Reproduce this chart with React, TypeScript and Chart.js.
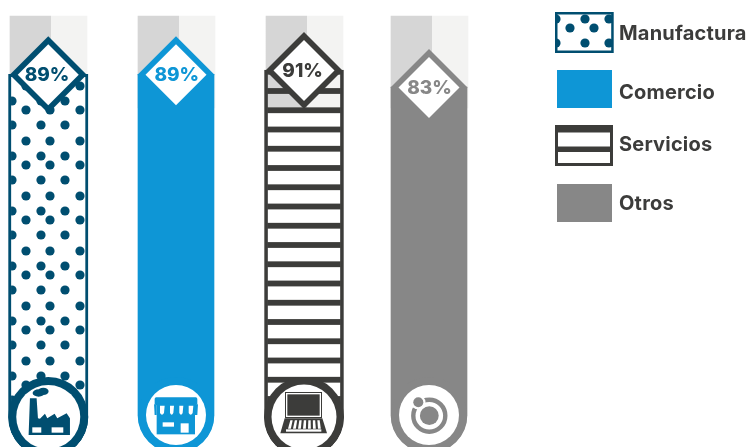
import React, { useEffect, useRef } from "react";
import { Chart, registerables } from "chart.js";

Chart.register(...registerables);

// ---- data ----
const categories = ["Manufactura", "Comercio", "Servicios", "Otros"];
const shares = [89, 89, 91, 83];
const trackRanges: [number, number][] = [
  [73.1, 116.4],
  [73.1, 116.4],
  [73.1, 116.4],
  [73.1, 116.4],
];
const barBases = [-91.1, -89.2, -91.1, -89.2];

// ---- style ----
const AXIS_MIN = -92.53;
const AXIS_MAX = 123.94;
const NAVY = "#004e70";
const BLUE = "#0e96d6";
const DARK = "#3c3c3a";
const GREY = "#878787";
const TEXT = "#3c3c3b";
const colors = [NAVY, BLUE, DARK, GREY];
const barWidths = [79.5, 76, 79, 76];
const borderWidths = [3, 0, 3, 0];
const radii = [40, 38, 40, 38];
const innerRadii = [32, 30, 32.5, 30];
const valueNudge = [0.25, 0.83, 1.67, -0.5];
const trackNudge = [0.5, 1.33, 2.17, 0];
const labelNudge = [-1.2, 0.8, -1.4, 0.5];
const FONT = "Inter, sans-serif";

function makeDots(): CanvasPattern {
  const t = document.createElement("canvas");
  t.width = 100;
  t.height = 55;
  const c = t.getContext("2d")!;
  c.fillStyle = "#fff";
  c.fillRect(0, 0, 100, 55);
  c.fillStyle = NAVY;
  const rows: [number, number[]][] = [
    [0, [26, 50, 80]],
    [15, [12, 41, 65]],
    [31, [26, 50, 80]],
    [46, [12, 41, 65]],
    [55, [26, 50, 80]],
  ];
  rows.forEach(([y, xs]) =>
    xs.forEach((x) => {
      c.beginPath();
      c.arc(x, y, 4.6, 0, Math.PI * 2);
      c.fill();
    })
  );
  return c.createPattern(t, "repeat")!;
}

function makeStripes(): CanvasPattern {
  const t = document.createElement("canvas");
  t.width = 4;
  t.height = 77;
  const c = t.getContext("2d")!;
  c.fillStyle = DARK;
  [14, 33.25, 52.5, 71.75].forEach((y) => c.fillRect(0, y - 2.9, 4, 5.8));
  return c.createPattern(t, "repeat")!;
}

function poly(c: CanvasRenderingContext2D, pts: number[][]) {
  c.beginPath();
  pts.forEach(([x, y], i) => (i ? c.lineTo(x, y) : c.moveTo(x, y)));
  c.closePath();
}

function rect(c: CanvasRenderingContext2D, col: string, x0: number, y0: number, x1: number, y1: number) {
  c.fillStyle = col;
  c.fillRect(x0, y0, x1 - x0, y1 - y0);
}

function factoryIcon(c: CanvasRenderingContext2D) {
  c.fillStyle = NAVY;
  poly(c, [
    [60, 40], [80, 40], [84, 100], [90, 101], [105, 86], [112, 100], [134, 86], [142, 100],
    [170, 85], [180, 100], [180, 150], [56, 150],
  ]);
  c.fill();
  c.beginPath();
  c.ellipse(86, 24, 18, 11, 0, 0, Math.PI * 2);
  c.ellipse(100, 19, 16, 11, 0, 0, Math.PI * 2);
  c.fill();
  rect(c, "#fff", 67, 127, 94, 143);
  rect(c, "#fff", 125, 127, 160, 143);
}

function storeIcon(c: CanvasRenderingContext2D) {
  c.fillStyle = BLUE;
  c.beginPath();
  c.roundRect(44, 37, 128, 23, 5);
  c.fill();
  rect(c, BLUE, 50, 55, 165, 148);
  poly(c, [[42, 58], [50, 58], [50, 90], [44, 90]]);
  c.fill();
  poly(c, [[165, 58], [174, 58], [172, 90], [165, 90]]);
  c.fill();
  [[60, 74], [90, 102], [118, 130], [146, 160]].forEach(([a, b]) => {
    c.fillStyle = "#fff";
    c.beginPath();
    c.moveTo(a, 62);
    c.lineTo(b, 62);
    c.lineTo(b - 2, 84);
    c.quadraticCurveTo((a + b) / 2 - 1, 94, a, 84);
    c.closePath();
    c.fill();
  });
  rect(c, "#fff", 68, 112, 102, 125);
  rect(c, "#fff", 122, 115, 146, 143);
}

function laptopIcon(c: CanvasRenderingContext2D) {
  rect(c, DARK, 57, 21, 168, 99);
  rect(c, "#fff", 60, 24, 165, 96);
  rect(c, DARK, 64, 28, 161, 92);
  c.fillStyle = DARK;
  poly(c, [[56, 100], [169, 100], [183, 145], [43, 145]]);
  c.fill();
  c.fillStyle = "#fff";
  for (let i = 0; i < 7; i++) {
    const x = 70 + i * 13.5;
    poly(c, [[x + 3, 106], [x + 10, 106], [x + 6 + (i - 3) * 1.5 + 3, 131], [x + (i - 3) * 1.5 + 0.5, 131]]);
    c.fill();
  }
  rect(c, "#fff", 60, 133, 166, 140);
}

function otherIcon(c: CanvasRenderingContext2D) {
  c.strokeStyle = GREY;
  c.lineWidth = 4.4;
  c.beginPath();
  c.arc(0.3, 0.7, 16, 0, Math.PI * 2);
  c.stroke();
  c.fillStyle = GREY;
  c.beginPath();
  c.arc(0.3, 0.7, 9.4, 0, Math.PI * 2);
  c.fill();
  c.fillStyle = "#fff";
  c.beginPath();
  c.arc(-10.7, -12.7, 7.2, 0, Math.PI * 2);
  c.fill();
  c.fillStyle = GREY;
  c.beginPath();
  c.arc(-10.7, -12.7, 5, 0, Math.PI * 2);
  c.fill();
}

const RING_Y = [417, 415, 417, 415];
const iconOffset = [
  [-38.3, -32],
  [-36, -30],
  [-38, -32],
];
const iconDraw = [factoryIcon, storeIcon, laptopIcon];

const App = () => {
  const ref = useRef<HTMLCanvasElement>(null);
  useEffect(() => {
    const dots = makeDots();
    const stripes = makeStripes();
    const fills: (string | CanvasPattern)[] = [dots, BLUE, stripes, GREY];

    const overlay = {
      id: "overlay",
      afterDatasetsUpdate(chart: any) {
        const n = categories.length;
        chart.getDatasetMeta(n).data.forEach((el: any, i: number) => {
          el.x += trackNudge[i];
        });
        for (let d = 0; d < n; d++) {
          chart.getDatasetMeta(d).data.forEach((el: any, i: number) => {
            el.x += valueNudge[i];
          });
        }
      },
      afterDatasetsDraw(chart: any) {
        const c: CanvasRenderingContext2D = chart.ctx;
        categories.forEach((label, i) => {
          const el = chart.getDatasetMeta(i).data[i];
          const x = el.x;
          const y = el.y + 0.6;
          // diamond
          const col = colors[i];
          c.fillStyle = col;
          poly(c, [[x, y - 38.5], [x + 38.5, y], [x, y + 38.5], [x - 38.5, y]]);
          c.fill();
          c.fillStyle = "#fff";
          poly(c, [[x, y - 30.5], [x + 30.5, y], [x, y + 30.5], [x - 30.5, y]]);
          c.fill();
          c.fillStyle = col;
          c.font = `800 19px ${FONT}`;
          c.textAlign = "center";
          c.textBaseline = "middle";
          c.fillText(`${shares[i]}%`, x + labelNudge[i], y + 0.7);
          // ring and icon
          const ry = RING_Y[i];
          c.fillStyle = col;
          c.beginPath();
          c.arc(x, ry, radii[i], 0, Math.PI * 2);
          c.fill();
          c.fillStyle = "#fff";
          c.beginPath();
          c.arc(x, ry, innerRadii[i], 0, Math.PI * 2);
          c.fill();
          c.save();
          c.translate(x, ry);
          if (i < 3) {
            c.translate(iconOffset[i][0], iconOffset[i][1]);
            c.scale(1 / 3, 1 / 3);
            iconDraw[i](c);
          } else {
            otherIcon(c);
          }
          c.restore();
        });

        // legend
        rect(c, NAVY, 555, 12, 613.7, 53);
        c.save();
        c.beginPath();
        c.rect(557.5, 14.5, 53.7, 36);
        c.clip();
        c.translate(544, -27);
        c.fillStyle = dots;
        c.fillRect(0, 27, 100, 100);
        c.restore();
        rect(c, BLUE, 557, 70, 612, 108);
        rect(c, DARK, 555, 125, 613, 166);
        rect(c, "#fff", 558, 132.5, 610, 146.5);
        rect(c, "#fff", 558, 152, 610, 163);
        rect(c, GREY, 557, 184, 612, 222);
        const ys = [34, 93, 145, 204];
        c.fillStyle = TEXT;
        c.font = `700 20px ${FONT}`;
        (c as any).letterSpacing = "0.2px";
        c.textAlign = "left";
        c.textBaseline = "middle";
        categories.forEach((label, i) => c.fillText(label, 619, ys[i]));
        (c as any).letterSpacing = "0px";
      },
    };

    const valueSets = categories.map((label, i) => ({
      label,
      data: categories.map((_, j) => (j === i ? shares[i] : null)),
      base: barBases[i],
      barThickness: barWidths[i],
      backgroundColor: fills[i],
      borderColor: colors[i],
      borderWidth: borderWidths[i],
      borderSkipped: false,
      borderRadius: { topLeft: 0, topRight: 0, bottomLeft: radii[i], bottomRight: radii[i] },
      grouped: false,
      clip: false,
      order: 1,
    }));
    const trackSet = {
      label: "track",
      data: trackRanges,
      barThickness: 77,
      grouped: false,
      clip: false,
      order: 2,
      borderWidth: 0,
      backgroundColor: (ctx: any) => {
        const xs = ctx.chart.scales.x;
        const mid = xs && ctx.dataIndex !== undefined ? xs.getPixelForValue(ctx.dataIndex) + trackNudge[ctx.dataIndex] : NaN;
        if (!Number.isFinite(mid)) return "#d6d6d6";
        const g = ctx.chart.ctx.createLinearGradient(mid - 38.5, 0, mid + 38.5, 0);
        g.addColorStop(0, "#d6d6d6");
        g.addColorStop(0.532, "#d6d6d6");
        g.addColorStop(0.532, "#f3f3f2");
        g.addColorStop(1, "#f3f3f2");
        return g;
      },
    };

    const chart = new Chart(ref.current!, {
      type: "bar",
      data: { labels: categories, datasets: [...valueSets, trackSet] as any },
      options: {
        animation: false,
        responsive: false,
        layout: { padding: { left: 48, right: 749 - 429.5, top: 0, bottom: 0 } },
        plugins: { legend: { display: false }, tooltip: { enabled: false } },
        scales: {
          x: { type: "category", display: false, offset: false },
          y: { type: "linear", display: false, min: AXIS_MIN, max: AXIS_MAX },
        },
      },
      plugins: [overlay],
    } as any);
    return () => chart.destroy();
  }, []);

  return (
    <div
      style={{
        position: "absolute",
        left: 0,
        top: 0,
        width: 749,
        height: 447,
        overflow: "hidden",
        background: "#fff",
      }}
    >
      <canvas ref={ref} width={749} height={460} style={{ display: "block", width: 749, height: 460 }} />
    </div>
  );
};

export default App;
